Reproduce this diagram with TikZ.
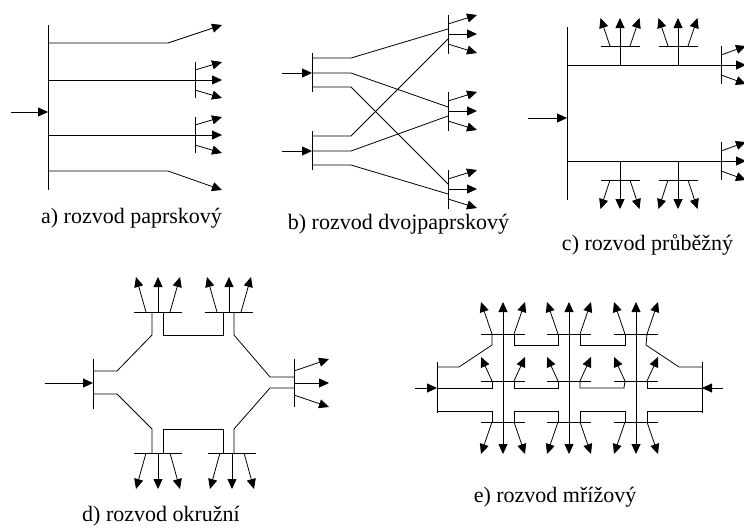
\documentclass[tikz,border=0pt]{standalone}
\usepackage{fontspec}
\setmainfont{Liberation Serif}
\usepackage{tikz}
\usetikzlibrary{arrows.meta}
\newcommand{\forkbody}[4]{
    \coordinate (-a) at (0,-#2);
    \coordinate (-b) at (0,#2);
    \coordinate (-c) at (0,0);
    \coordinate (-atip) at (#3,-#4);
    \coordinate (-btip) at (#3,#4);
    \draw [] (0,-#1) -- (0,#1);
    \draw [->] (-a) -- (-atip);
    \draw [->] (-b) -- (-btip);
}
\tikzset{lbl/.style={inner sep=0pt,font=\fontsize{22}{24}\selectfont}}
\tikzset{pics/fork/.style args={#1/#2/#3/#4}{code={\forkbody{#1}{#2}{#3}{#4}}}}
\tikzset{pics/fan/.style args={#1/#2/#3/#4}{code={
    \forkbody{#1}{#2}{#3}{#4}
    \coordinate (-ctip) at (#3,0);
    \draw [->] (-c) -- (-ctip);
}}}

\begin{document}
\begin{tikzpicture}[x=1pt,y=-1pt,line width=0.8pt,>={Triangle[length=10pt,width=9pt]}]
    \useasboundingbox (0,0) rectangle (744,528);

    % a)
    \coordinate (at) at (48,25);
    \coordinate (ab) at (48,190);
    \coordinate (ain) at (11,112);
    \coordinate (ah) at (48,112);
    \coordinate (a1) at (48,43);
    \coordinate (a4) at (48,171);
    \coordinate (a2) at (48,80);
    \coordinate (a3) at (48,135);
    \coordinate (atip1) at (222,25);
    \coordinate (atip4) at (222,190);
    \pic (af2) at (195,80) {fan={18/10/27/18}};
    \pic (af3) at (195,135) {fan={18/10/27/18}};
    \draw [] (at) -- (ab);
    \draw [->] (ain) -- (ah);
    \draw [->] (a1) -- ++(120,0) -- (atip1);
    \draw [->] (a4) -- ++(120,0) -- (atip4);
    \draw [] (a2) -- (af2-c);
    \draw [] (a3) -- (af3-c);
    \node[lbl] (la) at (131.5,218) {a) rozvod paprskový};

    % b)
    \foreach \y [count=\n] in {73,151} {
        \coordinate (bh\n) at (312,\y);
        \coordinate (bin\n) at (282,\y);
        \coordinate (bu\n) at (312,\y-15);
        \coordinate (bd\n) at (312,\y+14);
        \draw [] (312,\y-20) -- (312,\y+19);
        \draw [->] (bin\n) -- (bh\n);
    }
    \pic (bf1) at (448,34) {fan={19.5/10/29/19}};
    \pic (bf2) at (448,111) {fan={19.5/10/29/19}};
    \pic (bf3) at (448,189) {fan={19.5/10/29/19}};
    \coordinate (bp1) at (448,29);
    \coordinate (bp2) at (448,39);
    \coordinate (bp3) at (448,107);
    \coordinate (bp4) at (448,116);
    \coordinate (bp5) at (448,184);
    \coordinate (bp6) at (448,194);
    \draw [] (bu1) -- ++(39,0) -- (bp1);
    \draw [] (bh1) -- ++(39,0) -- (bp3);
    \draw [] (bd1) -- ++(39,0) -- (bp5);
    \draw [] (bu2) -- ++(39,0) -- (bp2);
    \draw [] (bh2) -- ++(39,0) -- (bp4);
    \draw [] (bd2) -- ++(39,0) -- (bp6);
    \node[lbl] (lb) at (398.5,224) {b) rozvod dvojpaprskový};

    % c)
    \coordinate (ct) at (567,27);
    \coordinate (cb) at (567,200);
    \coordinate (cin) at (528,118);
    \coordinate (ch) at (567,118);
    \coordinate (c1) at (567,65);
    \coordinate (c2) at (567,161);
    \pic (cr1) at (721,65) {fan={19/10/25/19}};
    \pic (cr2) at (721,161) {fan={19/10/25/19}};
    \draw [] (ct) -- (cb);
    \draw [->] (cin) -- (ch);
    \draw [] (c1) -- (cr1-c);
    \draw [] (c2) -- (cr2-c);
    \foreach \x [count=\n] in {620,678} {
        \pic[rotate=90] (cu\n) at (\x,46) {fan={19.5/10/28/19.5}};
        \pic[rotate=-90] (cd\n) at (\x,180) {fan={19.5/10/29/19.5}};
        \draw [] (\x,65) -- (cu\n-c);
        \draw [] (\x,161) -- (cd\n-c);
    }
    \node[lbl] (lc) at (647.5,245) {c) rozvod průběžný};

    % d)
    \coordinate (dlt) at (93,359);
    \coordinate (dlb) at (93,409);
    \coordinate (din) at (45,383);
    \coordinate (dh) at (93,383);
    \coordinate (dl1) at (93,371);
    \coordinate (dl2) at (93,394);
    \pic[rotate=90] (dt1) at (158,312) {fan={24/12/35/22}};
    \pic[rotate=90] (dt2) at (229,312) {fan={24/12/35/22}};
    \pic[rotate=-90] (db1) at (158,453) {fan={24/12/36/22}};
    \pic[rotate=-90] (db2) at (232,453) {fan={24/12/36/22}};
    \pic (dr) at (294,383) {fan={24/12/35/24}};
    \coordinate (dtl) at (152,312);
    \coordinate (dtm) at (163,312);
    \coordinate (dtn) at (223,312);
    \coordinate (dto) at (234,312);
    \coordinate (dbl) at (152,453);
    \coordinate (dbm) at (163,453);
    \coordinate (dbn) at (223,453);
    \coordinate (dbo) at (234,453);
    \coordinate (dr1) at (294,377);
    \coordinate (dr2) at (294,388);
    \draw [] (dlt) -- (dlb);
    \draw [->] (din) -- (dh);
    \draw [] (dl1) -- ++(24,0) -- (152,335) -- (dtl);
    \draw [] (dl2) -- ++(24,0) -- (152,429) -- (dbl);
    \draw [] (dtm) -- ++(0,23) -| (dtn);
    \draw [] (dbm) -- ++(0,-24) -| (dbn);
    \draw [] (dto) -- ++(0,23) -- (270,377) -- (dr1);
    \draw [] (dbo) -- ++(0,-24) -- (270,388) -- (dr2);
    \node[lbl] (ld) at (161,516) {d) rozvod okružní};

    % e)
    \coordinate (elt) at (437,362);
    \coordinate (elb) at (437,413);
    \coordinate (ert) at (702,362);
    \coordinate (erb) at (702,413);
    \coordinate (ein1) at (415,388);
    \coordinate (ein2) at (723,388);
    \coordinate (el) at (437,388);
    \coordinate (er) at (702,388);
    \coordinate (el1) at (437,367);
    \coordinate (el3) at (437,411);
    \coordinate (er1) at (702,367);
    \coordinate (er3) at (702,411);
    \foreach \x [count=\n] in {503,569,636} {
        \coordinate (eu\n) at (\x,302);
        \coordinate (ed\n) at (\x,454);
        \draw [<->] (eu\n) -- (ed\n);
        \pic[rotate=90] (et\n) at (\x,334) {fork={22/11/32/22}};
        \pic[rotate=90] (em\n) at (\x,381) {fork={22/11/24/22}};
        \pic[rotate=-90] (eb\n) at (\x,422) {fork={22/11/32/22}};
    }
    \draw [] (elt) -- (elb);
    \draw [] (ert) -- (erb);
    \draw [->] (ein1) -- (el);
    \draw [->] (ein2) -- (er);
    % upper row
    \draw [] (el1) -- ++(22,0) -- (492,345) -- (et1-a);
    \draw [] (et1-b) -- ++(0,11) -| (et2-a);
    \draw [] (et2-b) -- ++(0,11) -| (et3-a);
    \draw [] (er1) -- ++(-23,0) -- (646,345) -- (et3-b);
    % middle row
    \draw [] (el) -| (em1-a);
    \draw [] (em1-b) |- (558,388) -- (em2-a);
    \draw [] (em2-b) |- (624,388) -- (em3-a);
    \draw [] (er) -| (em3-b);
    % lower row
    \draw [] (el3) -| (eb1-b);
    \draw [] (eb1-a) -- ++(0,-11) -| (eb2-b);
    \draw [] (eb2-a) -- ++(0,-11) -| (eb3-b);
    \draw [] (er3) -| (eb3-a);
    \node[lbl] (le) at (555,497) {e) rozvod mřížový};
\end{tikzpicture}
\end{document}
